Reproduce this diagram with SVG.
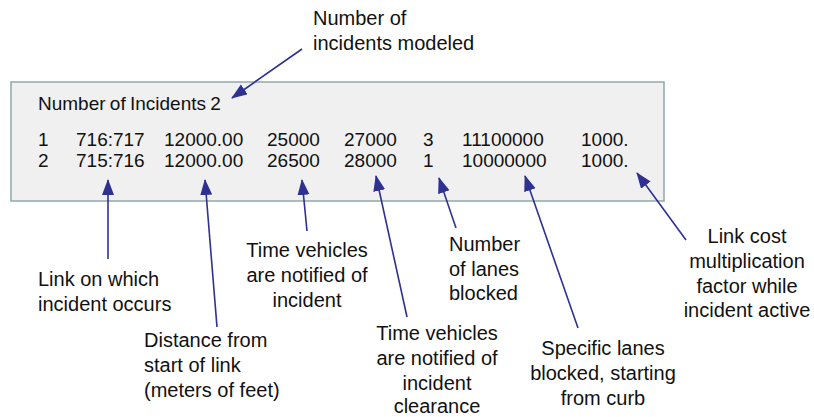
<svg xmlns="http://www.w3.org/2000/svg" width="814" height="417" viewBox="0 0 814 417">
  <style>
    .box { fill: #f0f0f0; stroke: #8fa9ab; stroke-width: 1.5; }
    .data { font-family: "Liberation Sans", Arial, sans-serif; font-size: 19px; fill: #111; }
    .lbl { font-family: "Liberation Sans", Arial, sans-serif; font-size: 20px; fill: #111; }
    .mid { text-anchor: middle; }
    .arr { stroke: #2e3192; stroke-width: 1.6; fill: none; marker-end: url(#head); }
  </style>
  <defs>
    <marker id="head" markerUnits="userSpaceOnUse" markerWidth="17" markerHeight="13" refX="15" refY="6" orient="auto">
      <path d="M0,0 L16,6 L0,12 z" fill="#2e3192"/>
    </marker>
  </defs>

  <rect width="814" height="417" fill="#ffffff"/>

  <!-- incident file listing -->
  <g id="file-box">
    <rect class="box" x="11" y="82" width="653" height="119"/>
    <text class="data" x="38" y="110" word-spacing="-1">Number of Incidents 2</text>
    <g class="data">
      <text x="38" y="146">1</text>
      <text x="76" y="146">716:717</text>
      <text x="164" y="146">12000.00</text>
      <text x="267" y="146">25000</text>
      <text x="344" y="146">27000</text>
      <text x="423" y="146">3</text>
      <text x="462" y="146">11100000</text>
      <text x="581" y="146">1000.</text>
      <text x="38" y="167">2</text>
      <text x="76" y="167">715:716</text>
      <text x="164" y="167">12000.00</text>
      <text x="267" y="167">26500</text>
      <text x="344" y="167">28000</text>
      <text x="423" y="167">1</text>
      <text x="462" y="167">10000000</text>
      <text x="581" y="167">1000.</text>
    </g>
  </g>

  <!-- callout labels -->
  <g id="lbl-incidents" class="lbl">
    <text x="313" y="25">Number of</text>
    <text x="313" y="50">incidents modeled</text>
  </g>
  <g id="lbl-link" class="lbl">
    <text x="38" y="286">Link on which</text>
    <text x="38" y="311">incident occurs</text>
  </g>
  <g id="lbl-distance" class="lbl">
    <text x="144" y="347">Distance from</text>
    <text x="144" y="372">start of link</text>
    <text x="144" y="397">(meters of feet)</text>
  </g>
  <g id="lbl-notify" class="lbl mid">
    <text x="307" y="257">Time vehicles</text>
    <text x="307" y="282">are notified of</text>
    <text x="307" y="307">incident</text>
  </g>
  <g id="lbl-clearance" class="lbl mid">
    <text x="437" y="340">Time vehicles</text>
    <text x="437" y="365">are notified of</text>
    <text x="437" y="390">incident</text>
    <text x="437" y="413">clearance</text>
  </g>
  <g id="lbl-lanes" class="lbl">
    <text x="449" y="251">Number</text>
    <text x="449" y="276">of lanes</text>
    <text x="449" y="300">blocked</text>
  </g>
  <g id="lbl-specific" class="lbl mid">
    <text x="603" y="355">Specific lanes</text>
    <text x="603" y="380">blocked, starting</text>
    <text x="603" y="405">from curb</text>
  </g>
  <g id="lbl-cost" class="lbl mid">
    <text x="747" y="243">Link cost</text>
    <text x="747" y="268">multiplication</text>
    <text x="747" y="293">factor while</text>
    <text x="747" y="317">incident active</text>
  </g>

  <!-- connectors -->
  <g id="connectors">
    <line class="arr" x1="302" y1="49" x2="232" y2="98"/>
    <line class="arr" x1="108" y1="259" x2="108" y2="180"/>
    <line class="arr" x1="217" y1="327" x2="205" y2="180"/>
    <line class="arr" x1="307" y1="231" x2="302" y2="180"/>
    <line class="arr" x1="407" y1="317" x2="376" y2="176"/>
    <line class="arr" x1="456" y1="228" x2="439" y2="178"/>
    <line class="arr" x1="578" y1="328" x2="525" y2="176"/>
    <line class="arr" x1="686" y1="240" x2="637" y2="173"/>
  </g>
</svg>
